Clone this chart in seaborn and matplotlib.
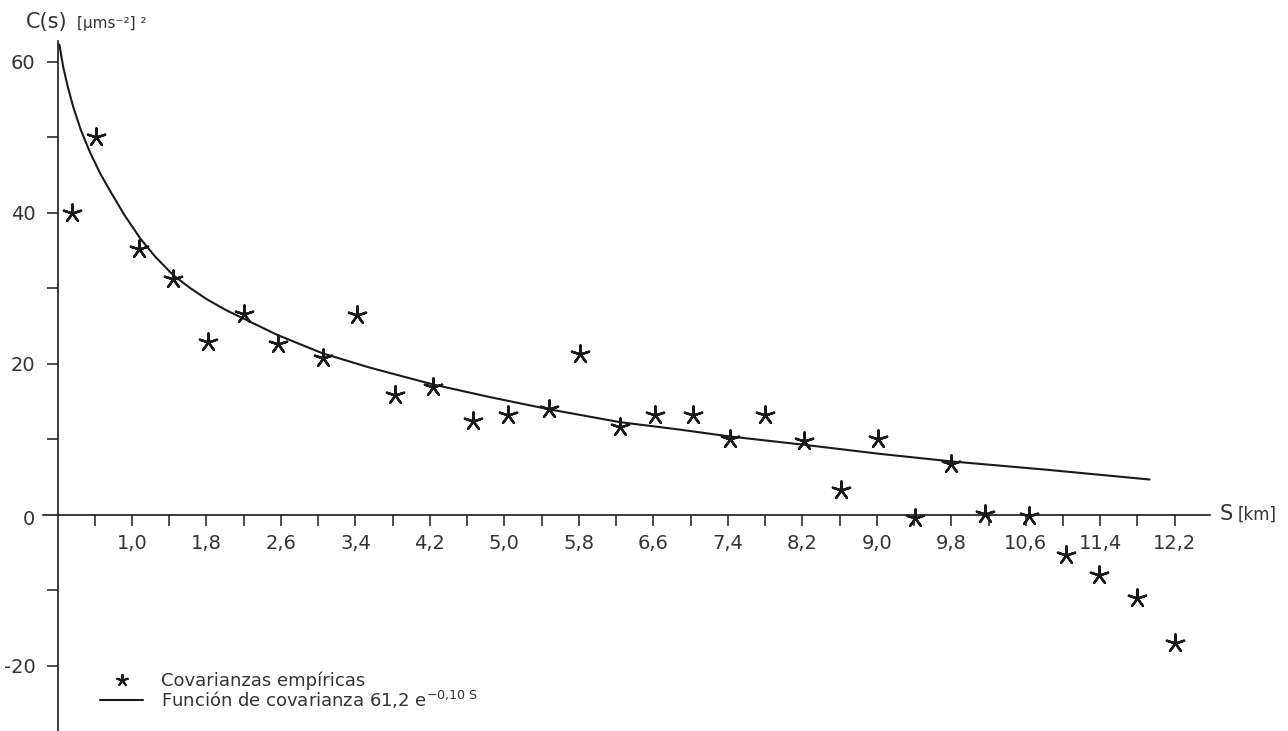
import matplotlib
matplotlib.use("Agg")
import matplotlib.pyplot as plt
from matplotlib.lines import Line2D
import seaborn as sns

# Empirical covariances: lag distance (km) and covariance value
lag_km = [0.36, 0.61, 1.08, 1.44, 1.82, 2.20, 2.57, 3.05, 3.42, 3.82, 4.23,
          4.66, 5.04, 5.48, 5.81, 6.24, 6.62, 7.03, 7.42, 7.80, 8.22, 8.62,
          9.01, 9.41, 9.80, 10.16, 10.63, 11.03, 11.39, 11.79, 12.20]
cov_emp = [40.0, 50.1, 35.2, 31.3, 22.9, 26.6, 22.6, 20.8, 26.5, 15.9, 17.0,
           12.5, 13.2, 14.1, 21.3, 11.7, 13.2, 13.2, 10.1, 13.2, 9.8, 3.3,
           10.1, -0.35, 6.75, 0.13, -0.1, -5.3, -7.9, -10.95, -16.9]

# Fitted covariance function sampled along the lag axis
fit_s = [0.22, 0.26, 0.31, 0.37, 0.45, 0.55, 0.66, 0.78, 0.92, 1.09, 1.25,
         1.44, 1.62, 1.80, 2.00, 2.20, 2.57, 3.05, 3.56, 4.23, 4.85, 5.48,
         6.24, 6.89, 7.42, 8.22, 9.03, 9.80, 10.82, 11.93]
fit_c = [62.3, 59.4, 56.7, 54.0, 51.0, 48.0, 45.2, 42.6, 39.7, 36.6, 34.2,
         31.8, 30.1, 28.6, 27.2, 26.0, 23.8, 21.4, 19.5, 17.3, 15.6, 14.0,
         12.3, 11.3, 10.4, 9.3, 8.1, 7.1, 6.0, 4.7]

# Axis ticks
x_ticks = [round(0.6 + 0.4 * i, 1) for i in range(30)]
x_labels = [("%.1f" % t).replace(".", ",") if i % 2 == 1 else ""
            for i, t in enumerate(x_ticks)]
y_ticks = [-20, -10, 10, 20, 30, 40, 50, 60]
y_labels = ["-20", "", "", "20", "", "40", "", "60"]

sns.set_theme(style="ticks")
plt.rcParams["font.family"] = ["DejaVu Sans"]

TXT = "#333333"
INK = "#1a1a1a"

fig = plt.figure(figsize=(12.88, 7.31), dpi=100)
ax = fig.add_axes([0, 0, 1, 1])
ax.set_xlim(-0.418, 13.417)
ax.set_ylim(-28.61, 68.21)

sns.lineplot(x=fit_s, y=fit_c, ax=ax, color=INK, linewidth=1.5,
             sort=False, estimator=None)
sns.scatterplot(x=lag_km, y=cov_emp, ax=ax, marker=(5, 2, 0), s=170,
                color=INK, linewidth=1.7, zorder=3)

# Axes crossing at the origin of the plot
for side in ("top", "right"):
    ax.spines[side].set_visible(False)
ax.spines["left"].set_position(("data", 0.2))
ax.spines["left"].set_bounds(-28.6, 62.8)
ax.spines["bottom"].set_position(("data", 0))
ax.spines["bottom"].set_bounds(0.04, 12.58)
for side in ("left", "bottom"):
    ax.spines[side].set_color(INK)
    ax.spines[side].set_linewidth(1.2)

ax.set_xticks(x_ticks)
ax.set_xticklabels(x_labels)
ax.set_yticks(y_ticks)
ax.set_yticklabels(y_labels)
ax.tick_params(axis="both", direction="out", length=8, width=1.1,
               color=INK, labelcolor=TXT, labelsize=14)
ax.tick_params(axis="x", pad=6)
ax.tick_params(axis="y", pad=8)
ax.set_xlabel("")
ax.set_ylabel("")
ax.grid(False)

# Zero label of the covariance axis
ax.annotate("0", xy=(0.2, 0), xycoords="data", xytext=(-16, -3),
            textcoords="offset points", ha="right", va="center",
            fontsize=14, color=TXT)

# Axis titles
fig.text(26 / 1288, 1 - 28 / 731, "C(s)", fontsize=15, color=TXT,
         va="baseline", ha="left")
fig.text(77 / 1288, 1 - 28 / 731, "[μms⁻²] ²", fontsize=11, color=TXT,
         va="baseline", ha="left")
fig.text(1220 / 1288, 1 - 520 / 731, "S", fontsize=15, color=TXT,
         va="baseline", ha="left")
fig.text(1238 / 1288, 1 - 520 / 731, "[km]", fontsize=12, color=TXT,
         va="baseline", ha="left")

# Legend
handles = [
    Line2D([], [], linestyle="none", marker=(5, 2, 0), markersize=9,
           markeredgewidth=1.4, color=INK),
    Line2D([], [], color=INK, linewidth=1.5),
]
labels = ["Covarianzas empíricas",
          r"Función de covarianza 61,2 e$^{\mathregular{-0{,}10\ S}}$"]
leg = ax.legend(handles, labels, loc="upper left",
                bbox_to_anchor=(100 / 1288, 1 - 672 / 731),
                bbox_transform=fig.transFigure, frameon=False,
                fontsize=13, handlelength=2.4, handletextpad=1.0,
                labelspacing=-0.1, borderpad=0, borderaxespad=0)
for t in leg.get_texts():
    t.set_color(TXT)

fig.savefig("out.png", dpi=100)
